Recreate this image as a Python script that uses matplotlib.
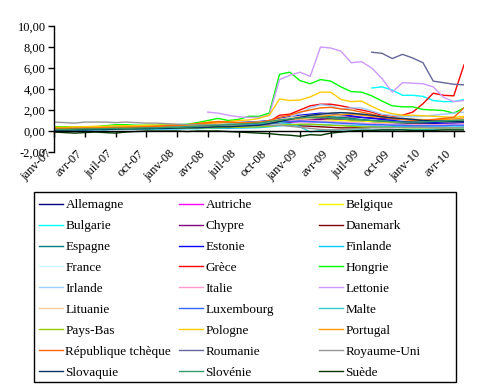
import numpy as np
import matplotlib
matplotlib.use("Agg")
from matplotlib import pyplot as plt
from matplotlib.patches import Rectangle

plt.rcParams['font.family'] = ['Liberation Serif', 'DejaVu Serif']

nan = np.nan

# Months, January 2007 to May 2010
mois = ['janv-07', 'févr-07', 'mars-07', 'avr-07', 'mai-07', 'juin-07', 'juil-07', 'août-07', 'sept-07',
        'oct-07', 'nov-07', 'déc-07', 'janv-08', 'févr-08', 'mars-08', 'avr-08', 'mai-08', 'juin-08',
        'juil-08', 'août-08', 'sept-08', 'oct-08', 'nov-08', 'déc-08', 'janv-09', 'févr-09', 'mars-09',
        'avr-09', 'mai-09', 'juin-09', 'juil-09', 'août-09', 'sept-09', 'oct-09', 'nov-09', 'déc-09',
        'janv-10', 'févr-10', 'mars-10', 'avr-10', 'mai-10']

allemagne = [0.10, 0.10, 0.12, 0.12, 0.15, 0.15, 0.18, 0.20, 0.22, 0.20, 0.22, 0.25, 0.25, 0.28, 0.30, 0.30, 0.32, 0.30, 0.35, 0.35, 0.40,
             0.55, 0.80, 0.95, 1.05, 1.10, 1.15, 1.10, 1.05, 1.00, 0.95, 0.90, 0.85, 0.80, 0.75, 0.70, 0.70, 0.72, 0.75, 0.75, 0.80]
autriche = [0.20, 0.20, 0.22, 0.22, 0.25, 0.25, 0.28, 0.28, 0.30, 0.30, 0.30, 0.32, 0.35, 0.35, 0.38, 0.40, 0.42, 0.45, 0.48, 0.50, 0.55,
            0.65, 0.75, 0.80, 0.85, 0.80, 0.75, 0.70, 0.65, 0.65, 0.60, 0.60, 0.55, 0.55, 0.55, 0.50, 0.50, 0.50, 0.50, 0.52, 0.55]
belgique = [0.35, 0.35, 0.38, 0.40, 0.40, 0.42, 0.45, 0.45, 0.45, 0.48, 0.50, 0.50, 0.52, 0.55, 0.55, 0.58, 0.60, 0.60, 0.62, 0.65, 0.65,
            0.75, 0.90, 1.00, 1.05, 1.10, 1.10, 1.05, 1.00, 0.95, 0.95, 0.90, 0.85, 0.85, 0.80, 0.80, 0.80, 0.82, 0.85, 0.85, 0.90]
bulgarie = [nan] * 31 + [4.10, 4.20, 3.90, 3.40, 3.40, 3.30, 2.90, 2.80, 2.80, 3.00]
chypre = [0.15, 0.15, 0.15, 0.18, 0.18, 0.20, 0.20, 0.22, 0.22, 0.25, 0.25, 0.28, 0.30, 0.30, 0.32, 0.35, 0.38, 0.40, 0.42, 0.45, 0.50,
          0.60, 0.75, 0.85, 0.95, 1.05, 1.10, 1.20, 1.30, 1.35, 1.30, 1.25, 1.20, 1.15, 1.10, 1.10, 1.05, 1.05, 1.00, 1.00, 1.05]
danemark = [0.20, 0.20, 0.22, 0.22, 0.25, 0.25, 0.28, 0.30, 0.30, 0.32, 0.35, 0.35, 0.38, 0.40, 0.40, 0.42, 0.42, 0.40, 0.40, 0.42, 0.45,
            0.50, 0.55, 0.55, 0.50, 0.45, 0.40, 0.35, 0.30, 0.30, 0.32, 0.35, 0.38, 0.40, 0.40, 0.40, 0.38, 0.38, 0.40, 0.40, 0.42]
espagne = [0.10, 0.10, 0.12, 0.12, 0.15, 0.15, 0.18, 0.20, 0.20, 0.22, 0.25, 0.25, 0.28, 0.30, 0.35, 0.40, 0.45, 0.50, 0.55, 0.60, 0.65,
           0.85, 1.10, 1.30, 1.40, 1.45, 1.40, 1.35, 1.30, 1.20, 1.10, 1.00, 0.95, 0.90, 0.85, 0.85, 0.85, 0.90, 0.90, 0.95, 1.00]
estonie = [0.25, 0.25, 0.28, 0.30, 0.30, 0.32, 0.35, 0.35, 0.38, 0.40, 0.40, 0.45, 0.50, 0.55, 0.60, 0.65, 0.70, 0.75, 0.80, 0.85, 0.90,
           1.00, 1.20, 1.35, 1.50, 1.60, 1.70, 1.65, 1.55, 1.45, 1.30, 1.20, 1.10, 1.00, 0.90, 0.85, 0.80, 0.80, 0.75, 0.75, 0.75]
finlande = [0.10, 0.10, 0.10, 0.12, 0.12, 0.12, 0.15, 0.15, 0.15, 0.18, 0.18, 0.20, 0.20, 0.22, 0.22, 0.25, 0.25, 0.28, 0.28, 0.30, 0.32,
            0.40, 0.50, 0.55, 0.60, 0.62, 0.60, 0.58, 0.55, 0.50, 0.48, 0.45, 0.45, 0.42, 0.42, 0.40, 0.40, 0.40, 0.40, 0.40, 0.42]
france = [0.15, 0.15, 0.15, 0.18, 0.18, 0.20, 0.20, 0.22, 0.22, 0.25, 0.25, 0.25, 0.28, 0.30, 0.30, 0.32, 0.35, 0.35, 0.38, 0.40, 0.45,
          0.55, 0.65, 0.70, 0.75, 0.75, 0.72, 0.70, 0.68, 0.65, 0.62, 0.60, 0.58, 0.55, 0.55, 0.52, 0.52, 0.50, 0.50, 0.50, 0.52]
grece = [0.25, 0.25, 0.25, 0.20, 0.20, 0.22, 0.25, 0.25, 0.30, 0.30, 0.30, 0.35, 0.35, 0.40, 0.45, 0.50, 0.55, 0.60, 0.65, 0.65, 0.70,
         0.90, 1.50, 1.60, 2.00, 2.40, 2.55, 2.55, 2.40, 2.20, 2.00, 1.80, 1.50, 1.40, 1.50, 1.80, 2.60, 3.60, 3.40, 3.35, 6.30]
hongrie = [0.40, 0.40, 0.40, 0.35, 0.40, 0.50, 0.60, 0.60, 0.55, 0.55, 0.55, 0.60, 0.60, 0.65, 0.80, 1.00, 1.20, 1.00, 1.10, 1.40, 1.40,
           1.70, 5.40, 5.60, 4.80, 4.50, 4.90, 4.75, 4.20, 3.75, 3.70, 3.35, 2.85, 2.40, 2.30, 2.30, 2.05, 2.00, 1.95, 1.70, 2.20]
irlande = [0.20, 0.20, 0.22, 0.25, 0.25, 0.28, 0.30, 0.30, 0.32, 0.35, 0.38, 0.40, 0.45, 0.50, 0.55, 0.60, 0.65, 0.65, 0.70, 0.75, 0.80,
           0.90, 1.10, 1.30, 1.70, 2.20, 2.50, 2.40, 2.10, 2.20, 2.20, 1.90, 1.60, 1.50, 1.40, 1.35, 1.40, 1.50, 1.60, 1.70, 1.80]
italie = [0.20, 0.20, 0.20, 0.22, 0.22, 0.25, 0.25, 0.25, 0.28, 0.30, 0.30, 0.35, 0.35, 0.40, 0.45, 0.50, 0.55, 0.55, 0.60, 0.60, 0.65,
          0.75, 0.90, 1.00, 1.05, 1.00, 0.95, 0.90, 0.85, 0.80, 0.75, 0.70, 0.68, 0.65, 0.62, 0.60, 0.60, 0.60, 0.62, 0.65, 0.70]
lettonie = [nan] * 15 + [1.80, 1.70, 1.50, 1.35, 1.30, 1.30, 1.50, 4.90, 5.30, 5.60, 5.20, 8.00, 7.90, 7.60, 6.50, 6.60,
                         6.00, 5.00, 3.70, 4.60, 4.55, 4.50, 4.20, 3.20, 2.80, 2.90]
lituanie = [0.30, 0.30, 0.35, 0.35, 0.40, 0.40, 0.45, 0.45, 0.50, 0.50, 0.50, 0.55, 0.60, 0.60, 0.65, 0.70, 0.70, 0.75, 0.80, 0.80, 0.85,
            0.95, 1.10, 1.25, 1.40, 1.50, 1.60, 1.70, 1.75, 1.70, 1.60, 1.50, 1.40, 1.30, 1.20, 1.15, 1.10, 1.05, 1.00, 1.00, 1.05]
luxembourg = [0.20, 0.20, 0.22, 0.25, 0.25, 0.30, 0.30, 0.30, 0.35, 0.35, 0.40, 0.40, 0.45, 0.45, 0.50, 0.55, 0.55, 0.60, 0.60, 0.65, 0.65,
              0.75, 0.85, 0.90, 0.95, 0.90, 0.85, 0.80, 0.75, 0.70, 0.65, 0.60, 0.60, 0.55, 0.55, 0.50, 0.50, 0.50, 0.50, 0.55, 0.55]
malte = [0.30, 0.30, 0.30, 0.35, 0.35, 0.35, 0.40, 0.40, 0.40, 0.45, 0.45, 0.50, 0.50, 0.50, 0.55, 0.60, 0.60, 0.65, 0.65, 0.70, 0.70,
         0.75, 0.80, 0.70, 0.40, -0.10, 0.05, 0.10, 0.10, 0.10, 0.10, 0.10, 0.10, 0.10, 0.15, 0.15, 0.15, 0.15, 0.20, 0.20, 0.20]
pays_bas = [0.15, 0.15, 0.15, 0.18, 0.18, 0.20, 0.20, 0.20, 0.22, 0.22, 0.25, 0.25, 0.25, 0.28, 0.30, 0.30, 0.32, 0.35, 0.35, 0.38, 0.40,
            0.45, 0.55, 0.60, 0.65, 0.65, 0.60, 0.55, 0.50, 0.45, 0.40, 0.38, 0.35, 0.35, 0.32, 0.30, 0.30, 0.30, 0.30, 0.30, 0.32]
pologne = [0.35, 0.35, 0.40, 0.40, 0.45, 0.45, 0.50, 0.50, 0.50, 0.55, 0.55, 0.55, 0.60, 0.60, 0.70, 0.85, 0.90, 0.90, 1.00, 1.05, 1.20,
           1.50, 3.05, 2.90, 2.95, 3.25, 3.70, 3.70, 3.00, 2.80, 2.85, 2.35, 1.90, 1.65, 1.50, 1.50, 1.45, 1.40, 1.35, 1.30, 1.40]
portugal = [0.30, 0.30, 0.30, 0.30, 0.30, 0.35, 0.35, 0.40, 0.40, 0.40, 0.45, 0.50, 0.50, 0.55, 0.60, 0.70, 0.80, 0.85, 0.80, 0.80, 0.85,
            0.90, 1.00, 1.10, 1.20, 1.30, 1.40, 1.50, 1.55, 1.60, 1.50, 1.40, 1.30, 1.20, 1.15, 1.10, 1.05, 1.05, 1.10, 1.15, 1.25]
rep_tcheque = [0.20, 0.20, 0.22, 0.25, 0.25, 0.28, 0.30, 0.30, 0.35, 0.40, 0.45, 0.50, 0.55, 0.60, 0.70, 0.80, 0.90, 0.85, 0.80, 0.75, 0.80,
               1.00, 1.30, 1.50, 1.80, 2.00, 2.20, 2.25, 2.10, 2.00, 1.80, 1.60, 1.40, 1.20, 1.10, 1.00, 1.00, 1.10, 1.20, 1.30, 2.20]
roumanie = [nan] * 31 + [7.50, 7.40, 6.90, 7.30, 6.95, 6.50, 4.75, 4.60, 4.45, 4.40]
royaume_uni = [0.85, 0.80, 0.75, 0.85, 0.85, 0.85, 0.80, 0.85, 0.80, 0.75, 0.75, 0.70, 0.65, 0.60, 0.60, 0.55, 0.60, 0.55, 0.50, 0.50, 0.50,
               0.55, 0.55, 0.45, 0.35, 0.25, 0.15, 0.10, 0.15, 0.20, 0.25, 0.30, 0.30, 0.30, 0.35, 0.35, 0.35, 0.30, 0.30, 0.30, 0.35]
slovaquie = [0.10, 0.10, 0.12, 0.12, 0.15, 0.15, 0.18, 0.20, 0.20, 0.22, 0.25, 0.25, 0.28, 0.30, 0.30, 0.35, 0.40, 0.40, 0.45, 0.50, 0.55,
             0.70, 0.90, 1.10, 1.30, 1.50, 1.60, 1.70, 1.75, 1.70, 1.60, 1.50, 1.35, 1.25, 1.20, 1.10, 1.00, 0.95, 0.95, 0.90, 0.90]
slovenie = [0.15, 0.15, 0.18, 0.20, 0.20, 0.22, 0.25, 0.25, 0.28, 0.30, 0.30, 0.35, 0.35, 0.40, 0.45, 0.50, 0.55, 0.60, 0.65, 0.70, 0.75,
            0.90, 1.05, 1.15, 1.25, 1.30, 1.30, 1.25, 1.20, 1.10, 1.05, 1.00, 0.95, 0.90, 0.85, 0.85, 0.85, 0.90, 0.95, 1.00, 1.05]
suede = [-0.10, -0.15, -0.20, -0.15, -0.10, -0.15, -0.20, -0.10, -0.05, 0.00, 0.00, 0.00, 0.00, -0.05, 0.00, 0.00, 0.00, -0.05, -0.10, -0.15, -0.20,
         -0.25, -0.35, -0.40, -0.50, -0.35, -0.40, -0.20, -0.10, 0.00, 0.05, 0.05, 0.10, 0.10, 0.10, 0.05, 0.05, 0.05, 0.10, 0.10, 0.10]

pays = ['Allemagne', 'Autriche', 'Belgique', 'Bulgarie', 'Chypre', 'Danemark', 'Espagne', 'Estonie', 'Finlande',
        'France', 'Grèce', 'Hongrie', 'Irlande', 'Italie', 'Lettonie', 'Lituanie', 'Luxembourg', 'Malte',
        'Pays-Bas', 'Pologne', 'Portugal', 'République tchèque', 'Roumanie', 'Royaume-Uni', 'Slovaquie', 'Slovénie', 'Suède']
series = [allemagne, autriche, belgique, bulgarie, chypre, danemark, espagne, estonie, finlande,
          france, grece, hongrie, irlande, italie, lettonie, lituanie, luxembourg, malte,
          pays_bas, pologne, portugal, rep_tcheque, roumanie, royaume_uni, slovaquie, slovenie, suede]
couleurs = ['#000080', '#FF00FF', '#FFFF00', '#00FFFF', '#800080', '#800000', '#008080', '#0000FF', '#00CCFF',
            '#CCFFFF', '#FF0000', '#00FF00', '#99CCFF', '#FF99CC', '#CC99FF', '#FFCC99', '#3366FF', '#33CCCC',
            '#99CC00', '#FFCC00', '#FF9900', '#FF6600', '#666699', '#969696', '#003366', '#339966', '#003300']

W, H = 491, 390
fig = plt.figure(figsize=(W / 100, H / 100), dpi=100)
ax = fig.add_axes([54 / W, 1 - 152 / H, (464 - 54) / W, (152 - 26) / H])

x = np.arange(len(mois))
lines = []
for vals, nom, c in zip(series, pays, couleurs):
    ln, = ax.plot(x, np.array(vals, dtype=float), color=c, lw=1.0, label=nom)
    lines.append(ln)

ax.set_xlim(0, len(mois) - 1)
ax.set_ylim(-2, 10)
yt = np.arange(-2, 11, 2)
ax.set_yticks(yt)
ax.set_yticklabels([f'{v:.2f}'.replace('.', ',') for v in yt])
ax.set_xticks(x[::3])
ax.set_xticklabels(mois[::3])

for s in ['top', 'right']:
    ax.spines[s].set_visible(False)
ax.spines['bottom'].set_position(('data', 0))
ax.spines['left'].set_linewidth(1.0)
ax.spines['bottom'].set_linewidth(1.0)
ax.tick_params(axis='y', direction='out', length=4, width=1.0, labelsize=9, pad=2)
ax.tick_params(axis='x', direction='out', length=4, width=1.0, labelsize=9, pad=8, labelrotation=45)
plt.setp(ax.get_xticklabels(), ha='right', va='top', rotation_mode='default')

# legend: 3 columns filled row by row, in a single black frame
fig.patches.append(Rectangle((34 / W, 1 - 382 / H), (456 - 34) / W, (382 - 192) / H,
                             transform=fig.transFigure, fill=False, edgecolor='black', lw=1.0))
col_x = [39, 179, 319]
for k in range(3):
    hs = lines[k::3]
    fig.legend(hs, [h.get_label() for h in hs], loc='upper left',
               bbox_to_anchor=(col_x[k] / W, 1 - 199 / H), frameon=False, fontsize=9.5,
               borderpad=0, borderaxespad=0, handlelength=1.8, handletextpad=0.2,
               labelspacing=0.66)

fig.savefig('out.png', dpi=100)
